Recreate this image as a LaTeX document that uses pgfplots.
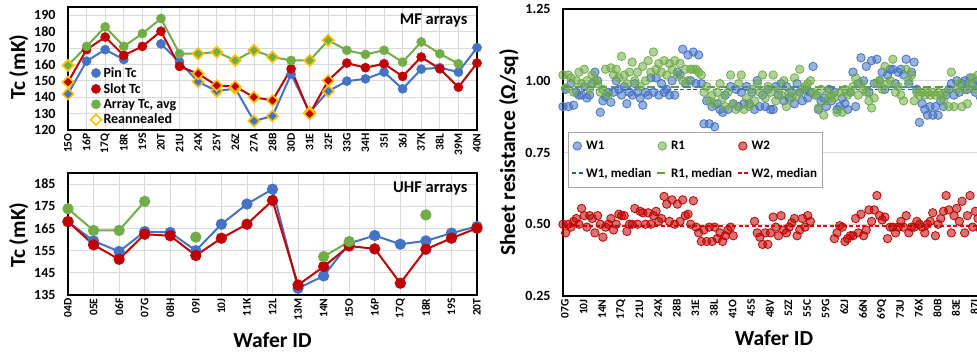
\documentclass[border=0pt]{standalone}
\usepackage{pgfplots}
\pgfplotsset{compat=1.18}
\usepackage{pgfplotstable}
\usepackage{fontspec}
\setmainfont{Carlito}
\definecolor{cBlue}{HTML}{4472C4}
\definecolor{cRed}{HTML}{C00000}
\definecolor{cGreen}{HTML}{70AD47}
\definecolor{cGold}{HTML}{FFC000}
\definecolor{cGrid}{HTML}{D9D9D9}
\definecolor{mBlue}{HTML}{2355A8}
\definecolor{mGreen}{HTML}{5B9E35}
\definecolor{mRed}{HTML}{F00000}
\newcommand{\ytf}{\bfseries\fontsize{14}{16}\selectfont}
\newcommand{\xtf}{\bfseries\fontsize{11.5}{13}\selectfont}
\newcommand{\lbf}{\bfseries\fontsize{21.5}{24}\selectfont}
\newcommand{\lgf}{\bfseries\fontsize{14}{16}\selectfont}
\newcommand{\rlgf}{\bfseries\fontsize{13}{15}\selectfont}
\newcommand{\ttf}{\bfseries\fontsize{16.5}{19}\selectfont}

\pgfplotstableread[row sep=\\]{y\\
0.91\\0.97\\0.91\\0.99\\0.915\\0.96\\0.95\\0.95\\0.98\\0.94\\
0.95\\0.99\\1.03\\1.00\\0.89\\0.93\\0.945\\0.96\\0.925\\0.96\\
1.00\\0.97\\0.95\\0.98\\0.92\\0.96\\0.95\\0.99\\0.96\\0.94\\
0.915\\0.96\\0.95\\1.01\\0.96\\1.01\\0.95\\0.99\\0.96\\0.97\\
0.95\\1.00\\0.95\\1.03\\1.02\\1.11\\0.99\\1.09\\1.00\\1.10\\
0.99\\1.09\\0.99\\0.85\\0.93\\0.85\\0.91\\0.84\\0.92\\0.90\\
0.89\\0.95\\0.90\\0.98\\0.92\\0.97\\0.91\\0.96\\0.92\\0.98\\
0.92\\0.96\\0.90\\1.00\\0.91\\0.95\\0.91\\0.97\\0.90\\
0.90\\0.98\\0.95\\0.99\\0.93\\0.98\\0.94\\0.96\\0.92\\0.99\\
0.96\\0.93\\0.97\\0.94\\0.96\\1.05\\0.95\\0.90\\0.93\\0.94\\
0.91\\0.97\\0.93\\0.96\\0.90\\0.91\\0.94\\0.92\\0.90\\0.96\\
1.03\\0.91\\0.99\\1.08\\1.00\\1.05\\0.96\\1.07\\0.99\\1.075\\
1.00\\1.03\\0.97\\1.02\\1.04\\1.04\\0.99\\1.03\\1.04\\1.02\\
1.075\\0.99\\1.03\\1.065\\0.97\\0.855\\0.92\\0.90\\0.88\\0.91\\
0.88\\0.91\\0.88\\0.93\\0.91\\0.95\\0.97\\0.99\\0.95\\1.00\\
0.96\\0.99\\1.00\\0.97\\1.01\\0.99\\0.96\\1.00\\0.94\\0.98\\
}\wone

\pgfplotstableread[row sep=\\]{y\\
1.02\\0.975\\1.02\\1.01\\0.96\\1.00\\1.03\\0.99\\1.04\\1.00\\
0.97\\1.02\\1.00\\0.99\\0.96\\0.97\\1.04\\0.95\\1.045\\1.02\\
1.04\\1.01\\1.085\\1.02\\0.99\\1.03\\1.065\\1.00\\1.03\\0.98\\
1.05\\1.00\\1.07\\1.03\\1.10\\1.04\\1.06\\1.03\\1.07\\1.02\\
1.06\\1.04\\1.07\\1.02\\1.06\\1.00\\1.04\\1.00\\1.04\\1.04\\
1.04\\1.03\\1.02\\0.96\\0.98\\0.93\\0.95\\0.92\\0.96\\0.99\\
0.94\\0.91\\0.96\\1.02\\0.92\\0.90\\0.99\\1.02\\0.90\\0.94\\
0.91\\0.97\\0.93\\0.99\\0.96\\1.02\\0.94\\0.98\\0.96\\
1.02\\0.93\\0.97\\0.95\\1.00\\0.91\\0.96\\0.94\\1.01\\0.95\\
1.04\\0.97\\0.98\\0.99\\1.00\\0.96\\0.95\\0.905\\0.97\\0.88\\
0.93\\0.96\\0.95\\0.94\\0.89\\0.96\\0.89\\0.97\\0.95\\0.96\\
0.98\\1.01\\0.95\\0.99\\0.97\\0.96\\0.93\\0.905\\0.94\\0.99\\
1.00\\0.97\\1.05\\0.99\\1.00\\1.075\\0.96\\0.98\\0.95\\0.93\\
1.04\\1.00\\1.02\\0.93\\0.96\\0.95\\0.96\\0.95\\0.96\\0.95\\
0.96\\0.95\\0.96\\0.95\\0.93\\0.96\\0.91\\1.03\\0.91\\0.97\\
0.99\\0.91\\0.97\\0.92\\0.99\\1.01\\0.97\\1.02\\0.98\\1.00\\
}\rone

\pgfplotstableread[row sep=\\]{y\\
0.50\\0.47\\0.50\\0.49\\0.51\\0.52\\0.50\\0.555\\0.53\\0.49\\
0.53\\0.52\\0.47\\0.53\\0.50\\0.455\\0.49\\0.50\\0.52\\0.48\\
0.50\\0.535\\0.53\\0.53\\0.475\\0.50\\0.50\\0.555\\0.50\\0.545\\
0.54\\0.50\\0.54\\0.50\\0.53\\0.545\\0.51\\0.52\\0.597\\0.57\\
0.51\\0.585\\0.50\\0.57\\0.51\\0.585\\0.53\\0.535\\0.50\\0.582\\
0.49\\0.47\\0.44\\0.48\\0.44\\0.49\\0.44\\0.49\\0.45\\0.47\\
0.44\\0.46\\0.48\\0.49\\0.46\\
nan\\nan\\nan\\nan\\nan\\nan\\nan\\
0.51\\0.47\\0.455\\0.43\\0.47\\0.43\\0.47\\
0.525\\0.49\\0.46\\0.53\\0.48\\0.47\\0.49\\0.505\\0.52\\0.46\\
0.48\\0.52\\0.49\\0.53\\0.51\\
nan\\nan\\nan\\nan\\nan\\nan\\nan\\nan\\
0.45\\0.47\\0.495\\0.49\\0.44\\0.45\\0.46\\
0.46\\0.52\\0.47\\0.535\\0.46\\0.48\\0.55\\0.51\\0.55\\0.60\\
0.53\\0.515\\0.525\\0.45\\0.49\\0.49\\0.47\\0.49\\0.51\\0.49\\
0.53\\0.47\\0.49\\0.49\\0.51\\0.50\\0.49\\0.47\\0.50\\0.51\\
0.54\\0.46\\0.50\\0.52\\0.545\\0.60\\0.55\\0.47\\0.53\\0.555\\
0.51\\0.58\\0.47\\0.53\\0.60\\0.49\\0.545\\0.52\\0.48\\0.55\\
}\wtwo

\pgfplotsset{
  base/.style={scale only axis, anchor=south west, major tick length=0pt,
    axis line style={line width=1.8pt, black},
    grid style={cGrid, line width=0.8pt},
    tick label style={/pgf/number format/assume math mode=true},
    yticklabel style={font=\ytf, xshift=-9pt},
    xticklabel style={font=\xtf, rotate=90, anchor=east},
    clip=false, unbounded coords=jump},
  ln/.style={line width=2pt},
  dot/.style={only marks, mark=*, mark size=4.6pt},
  rean/.style={only marks, mark=square*, mark size=3.9pt,
    mark options={rotate=45, fill=#1, draw=cGold, line width=1.6pt}},
  mklegend/.style={legend image code/.code={\draw[mark repeat=2,mark phase=2,##1] plot coordinates {(0pt,0pt)(5pt,0pt)(10pt,0pt)};}},
  lnlegend/.style={legend image code/.code={\draw[##1] (0pt,0pt) -- (11pt,0pt);}},
  scat/.style={only marks, mark=*, mark size=4.2pt, mklegend,
    mark options={fill=#1, fill opacity=0.55, draw=#1, line width=0.8pt}},
}

\begin{document}
\begin{tikzpicture}[x=1pt,y=1pt]
% ---------------- MF arrays ----------------
\begin{axis}[base, at={(68pt,221pt)}, width=409pt, height=123pt,
  xmin=0, xmax=22, ymin=120, ymax=195,
  xtick={0,...,22},
  xticklabels={15O,16P,17Q,18R,19S,20T,21U,24X,25Y,26Z,27A,28B,30D,31E,32F,33G,34H,35I,36J,37K,38L,39M,40N},
  ytick={120,130,...,190}, grid=major,
  legend style={at={(0.052,0.535)}, anchor=north west, draw=none, fill=none,
    font=\lgf, row sep=0.5pt, inner sep=1pt},
  legend cell align=left,
]
% Pin Tc
\addplot[cBlue, ln, forget plot] coordinates {(0,142)(1,162)(2,169)(3,163)(4,nan)(5,172.5)(6,161.5)(7,149.5)(8,143.7)(9,145.3)(10,125.5)(11,128.5)(12,154)(13,130.8)(14,143.7)(15,149.8)(16,151.2)(17,155.3)(18,145.1)(19,157.1)(20,158)(21,155.3)(22,170.2)};
\addplot[cBlue, dot, forget plot] coordinates {(1,162)(2,169)(3,163)(5,172.5)(6,161.5)(12,154)(15,149.8)(16,151.2)(17,155.3)(18,145.1)(19,157.1)(20,158)(21,155.3)(22,170.2)};
\addplot[rean=cBlue, forget plot] coordinates {(0,142)(7,149.5)(8,143.7)(9,145.3)(10,125.5)(11,128.5)(13,130.8)(14,143.7)};
% Slot Tc
\addplot[cRed, ln, forget plot] coordinates {(0,149.2)(1,169)(2,176.7)(3,165.5)(4,171)(5,180.2)(6,158.8)(7,154.3)(8,147.1)(9,146.5)(10,140)(11,138)(12,157.3)(13,129.8)(14,150.2)(15,160.8)(16,158)(17,160.4)(18,152.7)(19,164.5)(20,157.3)(21,146.1)(22,160.8)};
\addplot[cRed, dot, forget plot] coordinates {(1,169)(2,176.7)(3,165.5)(4,171)(5,180.2)(6,158.8)(12,157.3)(15,160.8)(16,158)(17,160.4)(18,152.7)(19,164.5)(20,157.3)(21,146.1)(22,160.8)};
\addplot[rean=cRed, forget plot] coordinates {(0,149.2)(7,154.3)(8,147.1)(9,146.5)(10,140)(11,138)(13,129.8)(14,150.2)};
% Array Tc avg
\addplot[cGreen, ln, forget plot] coordinates {(0,159.4)(1,171)(2,182.9)(3,171)(4,178.8)(5,188)(6,166.5)(7,166.5)(8,167.6)(9,162.4)(10,168.6)(11,164.5)(12,162.4)(13,162.4)(14,174.7)(15,168.6)(16,166.1)(17,168.6)(18,161.4)(19,173.7)(20,166.5)(21,160.4)};
\addplot[cGreen, dot, forget plot] coordinates {(1,171)(2,182.9)(3,171)(4,178.8)(5,188)(6,166.5)(12,162.4)(15,168.6)(16,166.1)(17,168.6)(18,161.4)(19,173.7)(20,166.5)(21,160.4)};
\addplot[rean=cGreen, forget plot] coordinates {(0,159.4)(7,166.5)(8,167.6)(9,162.4)(10,168.6)(11,164.5)(13,162.4)(14,174.7)};
\addlegendimage{cBlue, dot, mklegend}
\addlegendentry{Pin Tc}
\addlegendimage{cRed, dot, mklegend}
\addlegendentry{Slot Tc}
\addlegendimage{cGreen, dot, mklegend}
\addlegendentry{Array Tc, avg}
\addlegendimage{only marks, mark=square*, mark size=3.9pt, mklegend, mark options={rotate=45, fill=white, draw=cGold, line width=1.6pt}}
\addlegendentry{Reannealed}
\node[anchor=north east, font=\ttf] at (rel axis cs:0.985,0.97) {MF arrays};
\end{axis}

% ---------------- UHF arrays ----------------
\begin{axis}[base, at={(68pt,56pt)}, width=409pt, height=122pt,
  xmin=0, xmax=16, ymin=135, ymax=190,
  xtick={0,...,16},
  xticklabels={04D,05E,06F,07G,08H,09I,10J,11K,12L,13M,14N,15O,16P,17Q,18R,19S,20T},
  ytick={135,145,...,185}, grid=major,
]
\addplot[cBlue, ln, mark=*, mark size=4.6pt] coordinates {(0,168)(1,159.4)(2,154.6)(3,163.6)(4,163.2)(5,155)(6,166.9)(7,176)(8,182.7)(9,138)(10,143.6)(11,158.3)(12,161.8)(13,157.9)(14,159.4)(15,162.9)(16,165.9)};
\addplot[cRed, ln, mark=*, mark size=4.6pt] coordinates {(0,168.1)(1,157.6)(2,151.1)(3,162.4)(4,161.7)(5,152.8)(6,160.6)(7,166.9)(8,177.6)(9,139.5)(10,147.8)(11,157.1)(12,155.8)(13,140.3)(14,155.6)(15,160.6)(16,165.1)};
\addplot[cGreen, ln, mark=*, mark size=4.6pt] coordinates {(0,173.9)(1,164.1)(2,164.1)(3,177.2)(4,nan)(5,161.1)(6,nan)(10,152.3)(11,159.1)(12,nan)(14,171.1)};
\node[anchor=north east, font=\ttf] at (rel axis cs:0.985,0.96) {UHF arrays};
\end{axis}

% ---------------- Sheet resistance ----------------
\begin{axis}[base, at={(563pt,55pt)}, width=433.6pt, height=287pt,
  xmin=0, xmax=163, ymin=0.25, ymax=1.25,
  xtick={0.75,7.75,...,154.75},
  xticklabels={07G,10J,14N,17Q,21U,24X,28B,31E,38L,41O,45S,48V,52Z,55C,59G,62J,66N,69Q,73U,76X,80B,83E,87I},
  ytick={0.25,0.5,0.75,1,1.25}, ymajorgrids,
  yticklabel style={/pgf/number format/.cd, fixed, fixed zerofill, precision=2},
  legend columns=3,
  legend style={at={(0.0115,0.573)}, anchor=north west, draw=gray!70, line width=0.8pt,
    fill=white, font=\rlgf, /tikz/every even column/.append style={column sep=3pt},
    row sep=13pt, inner xsep=3pt, inner ysep=7pt},
  legend cell align=left,
]
\addplot[scat=cBlue] table[x expr=\coordindex, y=y] {\wone};
\addlegendentry{W1}
\addplot[scat=cGreen] table[x expr=\coordindex, y=y] {\rone};
\addlegendentry{R1}
\addplot[scat=cRed] table[x expr=\coordindex, y=y] {\wtwo};
\addlegendentry{W2}
\addplot[color=mBlue, mark=none, line width=1.7pt, dash pattern=on 4pt off 2.5pt, lnlegend] coordinates {(0,0.970)(163,0.970)};
\addlegendentry{W1, median}
\addplot[color=mGreen, mark=none, line width=1.7pt, dash pattern=on 8pt off 4pt, lnlegend] coordinates {(0,0.978)(163,0.978)};
\addlegendentry{R1, median}
\addplot[color=mRed, mark=none, line width=1.7pt, dash pattern=on 4pt off 2.5pt, lnlegend] coordinates {(0,0.495)(163,0.495)};
\addlegendentry{W2, median}
\end{axis}

% ---------------- labels ----------------
\node[rotate=90, anchor=base, font=\lbf] at (25pt,284pt) {Tc (mK)};
\node[rotate=90, anchor=base, font=\lbf] at (25pt,116pt) {Tc (mK)};
\node[anchor=base, font=\lbf] at (272.5pt,4pt) {Wafer ID};
\node[anchor=base, font=\lbf] at (774pt,6pt) {Wafer ID};
\node[rotate=90, anchor=base, font=\lbf] at (515pt,198.5pt) {Sheet resistance (Ω/sq)};

\pgfresetboundingbox
\path[use as bounding box] (0pt,0pt) rectangle (977pt,351pt);
\end{tikzpicture}
\end{document}
